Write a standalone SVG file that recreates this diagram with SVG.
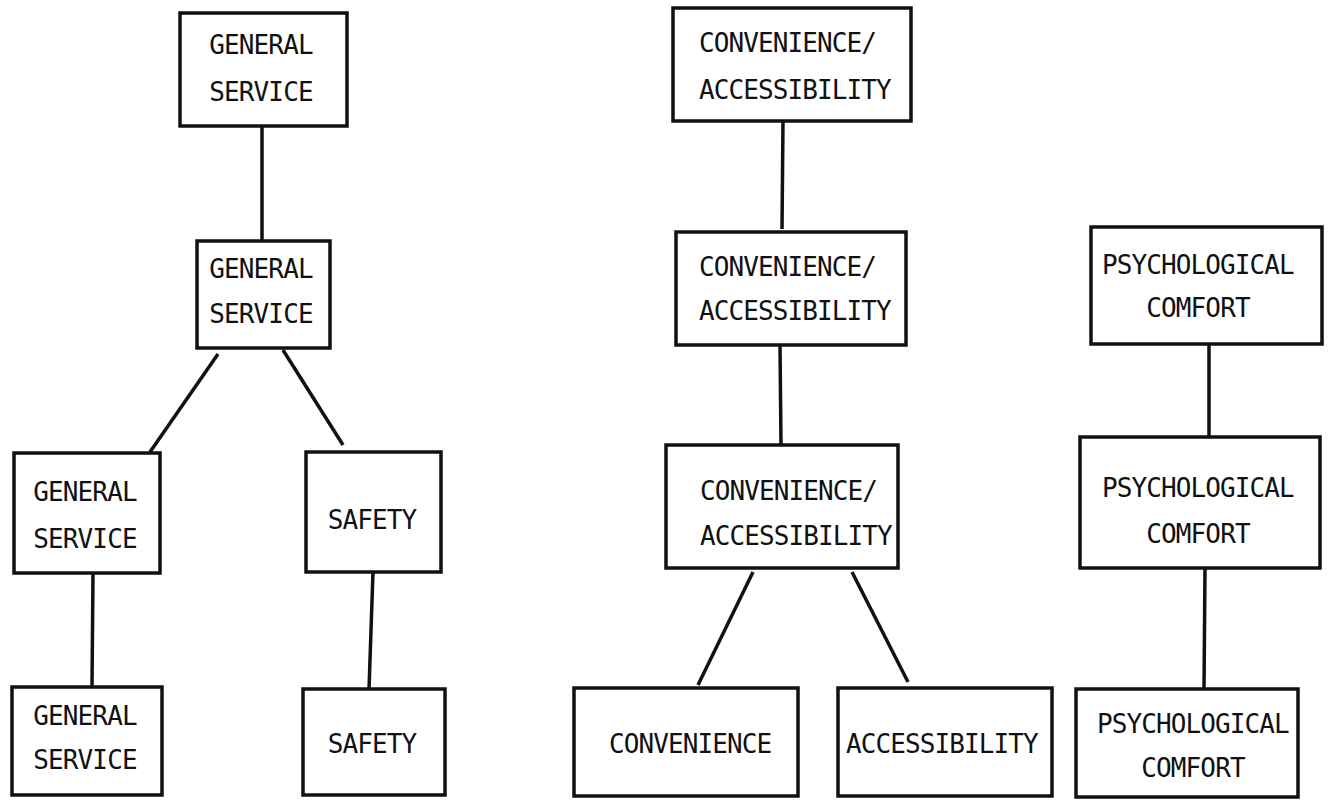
<svg xmlns="http://www.w3.org/2000/svg" width="1331" height="800" viewBox="0 0 1331 800">
<style>
.box{fill:#fff;stroke:#111;stroke-width:3.5;stroke-linejoin:miter}
.lbl{font-family:"DejaVu Sans Mono","Liberation Mono",monospace;font-size:26px;letter-spacing:-0.9px;fill:#111}
.c{text-anchor:middle}
.edge{stroke:#111;stroke-width:3.5;fill:none;stroke-linecap:butt}
</style>
<rect width="1331" height="800" fill="#fff"/>
<g id="connectors">
<line class="edge" x1="262" y1="126" x2="262" y2="241"/>
<line class="edge" x1="218" y1="354" x2="150" y2="452"/>
<line class="edge" x1="283" y1="350" x2="343" y2="445"/>
<line class="edge" x1="93" y1="573" x2="92" y2="687"/>
<line class="edge" x1="373" y1="572" x2="369" y2="689"/>
<line class="edge" x1="783" y1="121" x2="782" y2="229"/>
<line class="edge" x1="780" y1="345" x2="781" y2="445"/>
<line class="edge" x1="753" y1="572" x2="698" y2="685"/>
<line class="edge" x1="852" y1="572" x2="908" y2="682"/>
<line class="edge" x1="1209" y1="344" x2="1209" y2="437"/>
<line class="edge" x1="1205" y1="568" x2="1204" y2="689"/>
</g>
<g id="gs1">
<rect class="box" x="180" y="13" width="167" height="113"/>
<text class="lbl c" x="261" y="54">GENERAL</text>
<text class="lbl c" x="261" y="101">SERVICE</text>
</g>
<g id="gs2">
<rect class="box" x="197" y="241" width="133" height="107"/>
<text class="lbl c" x="261" y="278">GENERAL</text>
<text class="lbl c" x="261" y="323">SERVICE</text>
</g>
<g id="gs3">
<rect class="box" x="14" y="453" width="146" height="120"/>
<text class="lbl c" x="85" y="501">GENERAL</text>
<text class="lbl c" x="85" y="548">SERVICE</text>
</g>
<g id="safety1">
<rect class="box" x="306" y="452" width="135" height="120"/>
<text class="lbl c" x="372" y="529">SAFETY</text>
</g>
<g id="gs4">
<rect class="box" x="12" y="687" width="150" height="108"/>
<text class="lbl c" x="85" y="725">GENERAL</text>
<text class="lbl c" x="85" y="769">SERVICE</text>
</g>
<g id="safety2">
<rect class="box" x="303" y="689" width="142" height="106"/>
<text class="lbl c" x="372" y="753">SAFETY</text>
</g>
<g id="ca1">
<rect class="box" x="673" y="8" width="238" height="113"/>
<text class="lbl" x="699" y="52">CONVENIENCE/</text>
<text class="lbl" x="699" y="99">ACCESSIBILITY</text>
</g>
<g id="ca2">
<rect class="box" x="676" y="232" width="230" height="113"/>
<text class="lbl" x="699" y="276">CONVENIENCE/</text>
<text class="lbl" x="699" y="320">ACCESSIBILITY</text>
</g>
<g id="ca3">
<rect class="box" x="666" y="445" width="232" height="123"/>
<text class="lbl" x="700" y="500">CONVENIENCE/</text>
<text class="lbl" x="700" y="545">ACCESSIBILITY</text>
</g>
<g id="convenience">
<rect class="box" x="574" y="688" width="224" height="108"/>
<text class="lbl" x="609" y="753">CONVENIENCE</text>
</g>
<g id="accessibility">
<rect class="box" x="838" y="688" width="214" height="108"/>
<text class="lbl" x="846" y="753">ACCESSIBILITY</text>
</g>
<g id="pc1">
<rect class="box" x="1091" y="227" width="231" height="117"/>
<text class="lbl" x="1102" y="274">PSYCHOLOGICAL</text>
<text class="lbl c" x="1198" y="317">COMFORT</text>
</g>
<g id="pc2">
<rect class="box" x="1080" y="437" width="240" height="131"/>
<text class="lbl" x="1102" y="497">PSYCHOLOGICAL</text>
<text class="lbl c" x="1198" y="543">COMFORT</text>
</g>
<g id="pc3">
<rect class="box" x="1076" y="689" width="222" height="108"/>
<text class="lbl" x="1097" y="733">PSYCHOLOGICAL</text>
<text class="lbl c" x="1193" y="777">COMFORT</text>
</g>
</svg>
